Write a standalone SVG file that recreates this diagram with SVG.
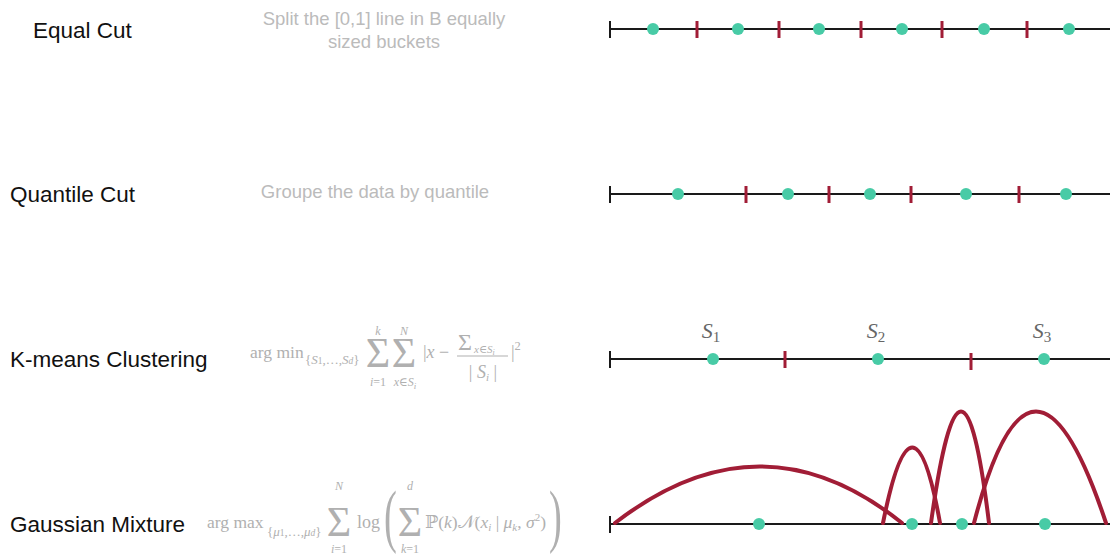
<svg xmlns="http://www.w3.org/2000/svg" width="1110" height="556" viewBox="0 0 1110 556">
<style>
.lbl{font-family:"Liberation Sans",Arial,sans-serif;font-size:22.5px;fill:#111}
.desc{font-family:"Liberation Sans",Arial,sans-serif;font-size:18.5px;fill:#bbbbbb;text-anchor:middle}
.m{font-family:"Liberation Serif","DejaVu Serif",serif;fill:#b0b0b0}
.mi{font-style:italic}
.big{font-size:42px;text-anchor:middle}
.lim{font-size:12px;text-anchor:middle}
.axis{stroke:#1a1a1a;stroke-width:2;fill:none}
.cut{stroke:#A11D36;stroke-width:3}
.pt{fill:#48CBA6}
.gauss{stroke:#A11D36;stroke-width:4;fill:none;stroke-linecap:round}
.s{font-family:"Liberation Serif","DejaVu Serif",serif;font-style:italic;font-size:22px;fill:#666;text-anchor:middle}
</style>

<g id="equal-cut">
  <text class="lbl" x="33" y="38">Equal Cut</text>
  <text class="desc" x="384" y="25">Split the [0,1] line in B equally</text>
  <text class="desc" x="384" y="48">sized buckets</text>
  <line class="axis" x1="610" y1="29" x2="1110" y2="29"/>
  <line class="axis" x1="610" y1="21" x2="610" y2="38"/>
  <g class="cut">
    <line x1="697" y1="21" x2="697" y2="38"/>
    <line x1="779" y1="21" x2="779" y2="38"/>
    <line x1="861" y1="21" x2="861" y2="38"/>
    <line x1="942" y1="21" x2="942" y2="38"/>
    <line x1="1027" y1="21" x2="1027" y2="38"/>
  </g>
  <g class="pt">
    <circle cx="653" cy="29" r="6"/>
    <circle cx="738" cy="29" r="6"/>
    <circle cx="819" cy="29" r="6"/>
    <circle cx="902" cy="29" r="6"/>
    <circle cx="984" cy="29" r="6"/>
    <circle cx="1069" cy="29" r="6"/>
  </g>
</g>

<g id="quantile-cut">
  <text class="lbl" x="10" y="202">Quantile Cut</text>
  <text class="desc" x="375" y="198">Groupe the data by quantile</text>
  <line class="axis" x1="610" y1="194" x2="1110" y2="194"/>
  <line class="axis" x1="610" y1="186" x2="610" y2="203"/>
  <g class="cut">
    <line x1="746" y1="186" x2="746" y2="203"/>
    <line x1="829" y1="186" x2="829" y2="203"/>
    <line x1="911" y1="186" x2="911" y2="203"/>
    <line x1="1019" y1="186" x2="1019" y2="203"/>
  </g>
  <g class="pt">
    <circle cx="678" cy="194" r="6"/>
    <circle cx="788" cy="194" r="6"/>
    <circle cx="870" cy="194" r="6"/>
    <circle cx="966" cy="194" r="6"/>
    <circle cx="1066" cy="194" r="6"/>
  </g>
</g>

<g id="kmeans">
  <text class="lbl" x="10" y="367">K-means Clustering</text>
  <g class="m">
    <text x="250" y="358" font-size="17.5">arg min</text>
    <text x="305" y="364" font-size="13">{<tspan class="mi">S</tspan><tspan font-size="9.5">1</tspan>,…,<tspan class="mi">S</tspan><tspan class="mi" font-size="9.5">d</tspan>}</text>
    <text class="big" x="378" y="367">Σ</text>
    <text class="lim mi" x="378" y="335">k</text>
    <text class="lim" x="378" y="386"><tspan class="mi">i</tspan>=1</text>
    <text class="big" x="404" y="367">Σ</text>
    <text class="lim mi" x="404" y="335">N</text>
    <text class="lim" x="405" y="386"><tspan class="mi">x</tspan>∈<tspan class="mi">S</tspan><tspan class="mi" font-size="9" dy="3">i</tspan></text>
    <text x="423" y="358" font-size="18">|<tspan class="mi">x</tspan> −</text>
    <text x="458" y="350" font-size="24">Σ</text>
    <text x="474" y="353" font-size="11"><tspan class="mi">x</tspan>∈<tspan class="mi">S</tspan><tspan class="mi" font-size="8" dy="2">i</tspan></text>
    <line x1="457" y1="356" x2="508" y2="356" stroke="#b0b0b0" stroke-width="1.2"/>
    <text x="483" y="378" font-size="18" text-anchor="middle">| <tspan class="mi">S</tspan><tspan class="mi" font-size="11" dy="3">i</tspan><tspan dy="-3"> |</tspan></text>
    <text x="511" y="358" font-size="18">|<tspan font-size="12.5" dy="-8">2</tspan></text>
  </g>
  <text class="s" x="711" y="338">S<tspan font-size="15" font-style="normal" dy="4">1</tspan></text>
  <text class="s" x="876" y="338">S<tspan font-size="15" font-style="normal" dy="4">2</tspan></text>
  <text class="s" x="1042" y="338">S<tspan font-size="15" font-style="normal" dy="4">3</tspan></text>
  <line class="axis" x1="610" y1="359" x2="1110" y2="359"/>
  <line class="axis" x1="610" y1="351" x2="610" y2="368"/>
  <g class="cut">
    <line x1="785" y1="351" x2="785" y2="368"/>
    <line x1="971" y1="353" x2="971" y2="370"/>
  </g>
  <g class="pt">
    <circle cx="713" cy="359" r="6"/>
    <circle cx="878" cy="359" r="6"/>
    <circle cx="1044" cy="359" r="6"/>
  </g>
</g>

<g id="gaussian-mixture">
  <text class="lbl" x="10" y="532">Gaussian Mixture</text>
  <g class="m">
    <text x="207" y="528" font-size="17.5">arg max</text>
    <text x="267" y="536" font-size="13">{<tspan class="mi">μ</tspan><tspan font-size="9.5">1</tspan>,…,<tspan class="mi">μ</tspan><tspan class="mi" font-size="9.5">d</tspan>}</text>
    <text class="big" x="339" y="536">Σ</text>
    <text class="lim mi" x="339" y="490">N</text>
    <text class="lim" x="339" y="553"><tspan class="mi">i</tspan>=1</text>
    <text x="357" y="528" font-size="18">log</text>
    <text transform="translate(384,539) scale(0.55,1)" font-size="70">(</text>
    <text class="big" x="410" y="536">Σ</text>
    <text class="lim mi" x="410" y="490">d</text>
    <text class="lim" x="410" y="553"><tspan class="mi">k</tspan>=1</text>
    <text x="425" y="528" font-size="17.5">ℙ(<tspan class="mi">k</tspan>)𝒩(<tspan class="mi">x</tspan><tspan class="mi" font-size="11" dy="3">i</tspan><tspan dy="-3"> | </tspan><tspan class="mi">μ</tspan><tspan class="mi" font-size="11" dy="3">k</tspan><tspan dy="-3">, </tspan><tspan class="mi">σ</tspan><tspan font-size="11" dy="-7">2</tspan><tspan dy="7">)</tspan></text>
    <text transform="translate(549,539) scale(0.55,1)" font-size="70">)</text>
  </g>
  <line class="axis" x1="610" y1="524" x2="1110" y2="524"/>
  <line class="axis" x1="610" y1="516" x2="610" y2="533"/>
  <g class="pt">
    <circle cx="759" cy="524" r="6"/>
    <circle cx="912" cy="524" r="6"/>
    <circle cx="962" cy="524" r="6"/>
    <circle cx="1045" cy="524" r="6"/>
  </g>
</g>

<g id="connectors">
  <path class="gauss" d="M615,523 Q761,410 902,523"/>
  <path class="gauss" d="M883,523 Q913,372 940,523"/>
  <path class="gauss" d="M931,523 Q962,300 989,523"/>
  <path class="gauss" d="M974,523 Q1032,300 1106,523"/>
</g>
</svg>
